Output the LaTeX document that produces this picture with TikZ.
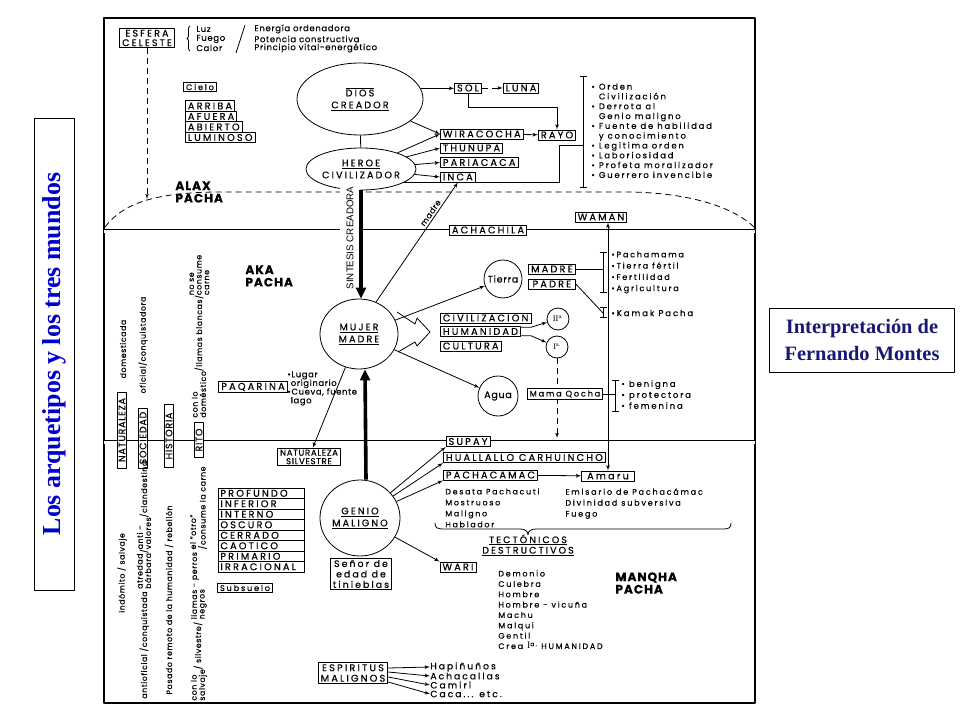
\documentclass[tikz,border=0pt]{standalone}
\usepackage{fontspec}
\usepackage{tikz}
\usetikzlibrary{shapes,arrows,arrows.meta,positioning,calc,decorations.pathreplacing}
\newfontfamily\nfont{Poppins}[LetterSpace=8.0,FakeBold=0.4]
\newfontfamily\wfont{Poppins}[LetterSpace=22.0,FakeBold=0.4]
\newfontfamily\tfont{Liberation Serif}
\newfontfamily\hfont{Liberation Sans}
\definecolor{titleblue}{rgb}{0.0,0.0,0.8}
\definecolor{notenavy}{rgb}{0.1,0.1,0.45}
\newcommand{\stk}[1]{{\renewcommand{\arraystretch}{0.85}\begin{tabular}[c]{@{}l@{}}#1\end{tabular}}}

\begin{document}
\begin{tikzpicture}[x=1bp,y=-1bp,>=latex',line join=bevel,
  box/.style={draw,fill=white,line width=0.8bp,inner xsep=2.5bp,inner ysep=1.6bp,font=\wfont\fontsize{9.8}{10}\selectfont},
  sbox/.style={box,font=\wfont\fontsize{8.2}{9}\selectfont},
  stack/.style={box,anchor=west,text width=82bp,inner xsep=2bp,minimum height=10.5bp,align=left},
  rbox/.style={box,rotate=90,inner ysep=1.2bp,font=\nfont\fontsize{9.5}{10}\selectfont},
  txt/.style={inner sep=0pt,align=left,font=\nfont\fontsize{8.5}{9.6}\selectfont},
  wtxt/.style={inner sep=0pt,align=left,font=\wfont\fontsize{8.1}{10.4}\selectfont},
  rtxt/.style={inner sep=0pt,align=left,rotate=90,font=\nfont\fontsize{7.8}{9}\selectfont},
  big/.style={inner sep=0pt,align=left,font=\nfont\bfseries\fontsize{12.2}{12.5}\selectfont},
  oval/.style={draw,ellipse,line width=0.8bp,inner sep=0pt,align=center,font=\wfont\fontsize{9.6}{12}\selectfont},
  ring/.style={draw,circle,line width=0.8bp,inner sep=0pt,font=\nfont\fontsize{9.5}{10}\selectfont},
  heavy/.style={line width=3.6bp,-{Triangle[width=10bp,length=11bp]}},
  tickbar/.style={{Bar[width=7bp]}-{Bar[width=7bp]}},
  dashline/.style={dash pattern=on 6bp off 4bp},
]
\pgfsetlinewidth{0.8bp}
\useasboundingbox (0,0) rectangle (960,720);
% title boxes
\node[draw,line width=0.8bp,rotate=90,minimum width=472bp,minimum height=40bp,text=titleblue,font=\tfont\bfseries\fontsize{26}{28}\selectfont] (titulo) at (54,354) {Los arquetipos y los tres mundos};
\node[draw,line width=0.8bp,minimum width=185bp,minimum height=64bp,align=center,text=notenavy,font=\tfont\bfseries\fontsize{20.5}{27}\selectfont] (interp) at (862,340) {Interpretación de\\Fernando Montes};
% frame and world lines
\draw[line width=1.6bp] (104,18) rectangle (755,703);
\draw[line width=2.6bp] (104,18) -- (755,18);
\draw[line width=2.4bp] (104,703) -- (755,703);
\draw[line width=0.9bp,double distance=3bp] (104,231) -- (755,231);
\draw[line width=0.9bp,double distance=3bp] (104,442) -- (755,442);
\draw[dashline] (105,227) .. controls (122,205) and (150,193) .. (215,192) -- (630,192) .. controls (690,193) and (733,207) .. (754,227);

% ALAX PACHA
\node[box,align=center,font=\wfont\fontsize{9.6}{9.5}\selectfont] (esfera) at (147,38) {ESFERA\\CELESTE};
\coordinate (domept) at (147,199);
\draw[dashline,->] (esfera) -- (domept);
\draw[decorate,decoration={brace,amplitude=3bp}] (190,51) -- (190,26);
\node[txt,anchor=west] (luz) at (196,29) {Luz};
\node[txt,anchor=west] (fuego) at (196,39) {Fuego};
\node[txt,anchor=west] (calor) at (196,48) {Calor};
\draw (245,25) -- (236,53);
\node[txt,anchor=west] (energia) at (254,29) {Energía ordenadora};
\node[txt,anchor=west] (potencia) at (254,39) {Potencia constructiva};
\node[txt,anchor=west] (principio) at (254,48) {Principio vital-energético};
\node[sbox] (cielo) at (200,87) {Cielo};
\node[box,anchor=west,minimum height=10.5bp] (arriba) at (185,106) {ARRIBA};
\node[box,anchor=west,minimum height=10.5bp] (afuera) at (185,116.5) {AFUERA};
\node[box,anchor=west,minimum height=10.5bp] (abierto) at (185,127) {ABIERTO};
\node[box,anchor=west,minimum height=10.5bp] (luminoso) at (185,137.5) {LUMINOSO};
\node[big,anchor=west] (alax) at (175,192) {ALAX\\PACHA};

\node[oval,minimum width=126bp,minimum height=72bp] (dios) at (360,99) {\(\overline{\mbox{DIOS}}\)\\\underline{CREADOR}};
\node[oval,minimum width=104bp,minimum height=42bp] (heroe) at (361,169) {\underline{HEROE}\\CIVILIZADOR};
\draw (dios) -- (heroe);
\node[box] (sol) at (468,88) {SOL};
\node[box] (luna) at (521,88) {LUNA};
\node[box,anchor=west] (wiracocha) at (440,134) {WIRACOCHA};
\node[box] (rayo) at (557,135) {RAYO};
\node[box,anchor=west] (thunupa) at (440,148) {THUNUPA};
\node[box,anchor=west] (pariacaca) at (440,162.5) {PARIACACA};
\node[box,anchor=west] (inca) at (440,177) {INCA};
\draw[->] (dios.10) -- (dios.10 -| sol.west);
\draw[dashline,->] (sol) -- (luna);
\draw[->] (sol.south) -- ++(0,14) -| (rayo.north);
\draw[->] (wiracocha) -- (rayo);
\draw[->] (dios) -- (wiracocha.west);
\draw[->] (heroe) -- (wiracocha.west);
\draw[->] (heroe) -- (thunupa.west);
\draw[->] (heroe) -- (pariacaca.west);
\draw[->] (heroe) -- (inca.west);
\draw[tickbar] (583,76) -- (583,188);
\coordinate (brk1) at (583,145);
\coordinate (brkturn) at (559,145);
\draw (heroe.-18) -| (brkturn) -- (brk1);
\node[wtxt,anchor=north west,font=\wfont\fontsize{8.4}{9.85}\selectfont] (virtudes) at (591,83) {• Orden\\\phantom{• }Civilización\\• Derrota al\\\phantom{• }Genio maligno\\• Fuente de habilidad\\\phantom{• }y conocimiento\\• Legitima orden\\• Laboriosidad\\• Profeta moralizador\\• Guerrero invencible};

% AKA PACHA
\node[box] (achachila) at (488,230) {ACHACHILA};
\node[box] (waman) at (601,217) {WAMAN};
\node[rotate=90,fill=white,inner xsep=0pt,minimum height=20bp,font=\hfont\fontsize{9.8}{10}\selectfont] (sintesis) at (350,238) {SINTESIS CREADORA};
\node[big,anchor=west] (aka) at (245,276) {AKA\\PACHA};
\node[oval,minimum width=78bp,minimum height=70bp] (mujer) at (359,334) {\underline{MUJER}\\\underline{MADRE}};
\draw[heavy] (heroe.south) -- (heroe.south |- mujer.north);
\node[ring,minimum size=38bp] (tierra) at (503,279) {Tierra};
\node[box,anchor=west,minimum width=47bp] (madreb) at (528,269) {MADRE};
\node[box,anchor=west,minimum width=47bp] (padreb) at (528,284) {PADRE};
\draw[->] (mujer) -- (tierra);
\draw[tickbar] (603,252) -- (603,293);
\coordinate (brk2) at (603,269);
\draw (madreb.east) -- (brk2);
\node[wtxt,anchor=north west,font=\wfont\fontsize{8.1}{11.3}\selectfont] (pacha) at (611,251) {•Pachamama\\•Tierra fértil\\•Fertilidad\\•Agricultura};
\draw[tickbar] (603,307) -- (603,318);
\coordinate (brk3) at (603,313);
\draw (padreb.east) -- (brk3);
\node[wtxt,anchor=west,font=\wfont\fontsize{8.6}{10}\selectfont] (kamak) at (611,313) {•Kamak Pacha};
\draw (397,312) -- (415,324) -- (417,318) -- (430,332) -- (417,346) -- (415,342) -- (398,352);
\node[box,anchor=west] (civil) at (440,318) {CIVILIZACION};
\node[box,anchor=west] (human) at (440,331.5) {HUMANIDAD};
\node[box,anchor=west] (cultura) at (440,346) {CULTURA};
\node[ring,minimum size=22bp,font=\tfont\fontsize{8.5}{9}\selectfont] (dos) at (558,319) {II\textsuperscript{a.}};
\node[ring,minimum size=22bp,font=\tfont\fontsize{8.5}{9}\selectfont] (uno) at (557,347) {I\textsuperscript{a.}};
\draw[->] (human.6) -- ++(10,0) -- (dos);
\draw[->] (human.-6) -- ++(10,0) -- (uno);
\coordinate (qend) at (557,438);
\draw[dashline,->] (uno) -- (qend);
\node[ring,minimum size=40bp] (agua) at (498,396) {Agua};
\draw[->] (mujer) -- (agua);
\node[sbox] (qocha) at (565,394) {Mama Qocha};
\draw[tickbar] (615,380) -- (615,412);
\coordinate (brk4) at (615,394);
\draw (qocha.east) -- (brk4);
\node[wtxt,anchor=north west,font=\wfont\fontsize{8.5}{11}\selectfont] (benigna) at (621,380) {• benigna\\• protectora\\• femenina};
\draw[->] (mujer.62) -- node[sloped,above,pos=0.72,inner sep=2bp,font=\nfont\fontsize{8}{8}\selectfont] (madrelbl) {madre} (inca.south);
\node[box] (paqarina) at (253,387) {PAQARINA};
\node[anchor=north west,inner sep=0pt,align=left,font=\nfont\fontsize{8.4}{8.7}\selectfont] (lugar) at (287,371) {•Lugar\\\phantom{•}originario\\•Cueva, fuente\\\phantom{•}lago};
\node[box,align=center,font=\nfont\fontsize{8.6}{8.5}\selectfont] (natsilv) at (309,457) {NATURALEZA\\SILVESTRE};
\draw[->] (mujer) -- (natsilv);

% left columns
\node[rtxt] (domest) at (123,349) {domesticada};
\node[rtxt] (oficial) at (143,345) {oficial/conquistadora};
\node[rtxt,anchor=west] (domestico) at (200,418) {\stk{con lo\\doméstico}/llamas blancas/\stk{no se\\consume\\carne}};
\node[rbox,minimum width=76bp] (natur) at (122,430) {NATURALEZA};
\node[rbox,minimum width=60bp] (socie) at (143,438) {SOCIEDAD};
\node[rbox,minimum width=63bp] (histo) at (169,436) {HISTORIA};
\node[rbox,minimum width=35bp] (rito) at (199,440) {RITO};
\node[rtxt] (indomito) at (122,573) {indómito / salvaje};
\node[rtxt,anchor=west] (antiofi) at (145,699) {antioficial /conquistada \stk{atredad\\bárbara}/\stk{anti -\\valores}/clandestina};
\node[rtxt] (pasado) at (169,600) {Pasado remoto de la humanidad / rebelión};
\node[rtxt,anchor=west] (salvaje) at (199,701) {\stk{con lo\\salvaje}/ silvestre/ \stk{llamas - perros\\negros} \stk{el “otro”\\/consume la carne}};

% MANQHA PACHA
\node[box] (supay) at (468,441.5) {SUPAY};
\node[box,anchor=west] (huallallo) at (443,457.5) {HUALLALLO CARHUINCHO};
\node[box,anchor=west] (pachacamac) at (443,475) {PACHACAMAC};
\node[box,minimum width=53bp] (amaru) at (608,476) {Amaru};
\draw[<->] (amaru.north |- waman.south) -- (amaru.north);
\draw[->] (pachacamac) -- (amaru);
\node[oval,minimum width=80bp,minimum height=76bp] (genio) at (360,518) {\underline{GENIO}\\\underline{MALIGNO}};
\draw[heavy] ([xshift=6bp]genio.north) -- ([xshift=6bp]mujer.south);
\draw[->] (genio) -- (supay.south west);
\draw[->] (genio) -- (huallallo.south west);
\draw[->] (genio) -- (pachacamac.south west);
\node[box] (wari) at (458,567) {WARI};
\draw[->] (genio) -- (wari.north west);
\node[wtxt,anchor=north west,font=\wfont\fontsize{7.9}{11}\selectfont] (desata) at (445,488) {Desata Pachacuti\\Mostruoso\\Maligno\\Hablador};
\node[wtxt,anchor=north west,font=\wfont\fontsize{8.1}{11}\selectfont] (emisario) at (565,488) {Emisario de Pachacámac\\Divinidad subversiva\\Fuego};
\draw (435,523) .. controls (435,528) and (437,529) .. (445,529) -- (520,529) .. controls (525,529) and (528,531) .. (528,535) .. controls (528,531) and (531,529) .. (536,529) -- (722,529) .. controls (729,529) and (731,528) .. (731,523);
\node[wtxt,align=center,font=\wfont\fontsize{9.5}{10.5}\selectfont] (tecto) at (528,545) {\underline{TECTÓNICOS}\\\underline{DESTRUCTIVOS}};
\node[wtxt,anchor=north west,font=\wfont\fontsize{8}{10.4}\selectfont] (demonio) at (498,570) {Demonio\\Culebra\\Hombre\\Hombre - vicuña\\Machu\\Malqui\\Gentil\\Crea {\tfont\fontsize{10}{10}\selectfont I}\textsuperscript{a.} HUMANIDAD};
\node[big,anchor=west] (manqha) at (615,583) {MANQHA\\PACHA};
\node[box,align=center,font=\wfont\fontsize{9.4}{10.5}\selectfont] (senor) at (361,574) {Señor de\\edad de\\tinieblas};
\node[stack] (profundo) at (218,493.3) {PROFUNDO};
\node[stack] (inferior) at (218,503.8) {INFERIOR};
\node[stack] (interno) at (218,514.3) {INTERNO};
\node[stack] (oscuro) at (218,524.8) {OSCURO};
\node[stack] (cerrado) at (218,535.3) {CERRADO};
\node[stack] (caotico) at (218,545.8) {CAOTICO};
\node[stack] (primario) at (218,556.3) {PRIMARIO};
\node[stack] (irracional) at (218,566.8) {IRRACIONAL};
\node[sbox] (subsuelo) at (245,588) {Subsuelo};
\node[box,align=center,font=\wfont\fontsize{9.8}{10.5}\selectfont] (espiritus) at (353,673) {ESPIRITUS\\MALIGNOS};
\node[wtxt,anchor=west,font=\wfont\fontsize{9.2}{10}\selectfont] (hapi) at (430,667) {Hapiñuños};
\node[wtxt,anchor=west,font=\wfont\fontsize{9.2}{10}\selectfont] (acha) at (430,676) {Achacallas};
\node[wtxt,anchor=west,font=\wfont\fontsize{9.2}{10}\selectfont] (camiri) at (430,685) {Camiri};
\node[wtxt,anchor=west,font=\wfont\fontsize{9.2}{10}\selectfont] (caca) at (430,694) {Caca... etc.};
\draw[->] ([yshift=5bp]espiritus.east) -- (hapi.west);
\draw[->] ([yshift=1bp]espiritus.east) -- (acha.west);
\draw[->] ([yshift=-4bp]espiritus.east) -- (camiri.west);
\draw[->] ([yshift=-9bp]espiritus.east) -- (caca.west);
\end{tikzpicture}
\end{document}
